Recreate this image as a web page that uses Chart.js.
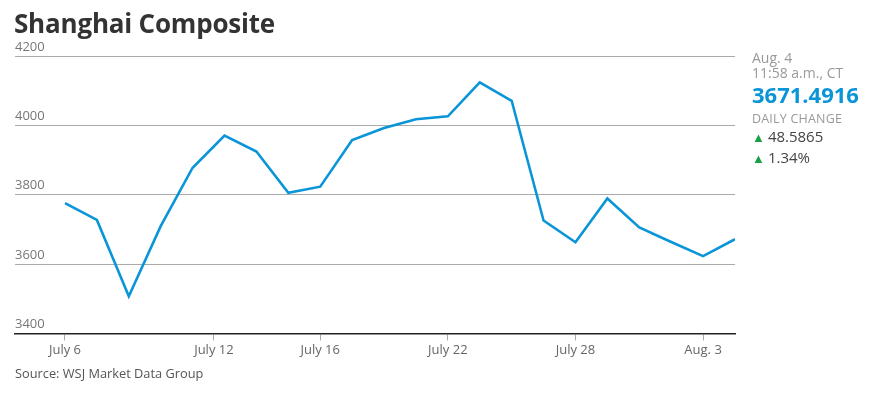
<!DOCTYPE html>
<html>
<head>
<meta charset="utf-8">
<script src="https://cdn.jsdelivr.net/npm/chart.js@4"></script>
<style>
  body { margin: 0; background: #fff; font-family: "Open Sans", sans-serif; }
  #wrap { position: relative; width: 870px; height: 395px; }
  #myChart { position: absolute; left: 0; top: 0; }
  .title { position: absolute; left: 14px; top: 5px; font-size: 26px; font-weight: 700; color: #333; letter-spacing: -0.2px; }
  .side { position: absolute; left: 752px; top: 50px; color: #999; font-size: 14px; line-height: 15px; }
  .side .last { color: #0a95d8; font-size: 22px; font-weight: 700; line-height: 26px; margin-top: 1px; }
  .side .cap { font-size: 12.5px; margin-top: 4px; letter-spacing: 0.2px; }
  .side .chg { color: #444; font-size: 15px; line-height: 20px; }
  .side .up { color: #1a9e4a; font-size: 13px; margin-right: 3px; }
  .source { position: absolute; left: 15px; top: 364px; font-size: 12.8px; color: #555; }
</style>
</head>
<body>
<div id="wrap">
  <canvas id="myChart" width="870" height="395"></canvas>
  <div class="title">Shanghai Composite</div>
  <div class="side">
    <div>Aug. 4</div>
    <div>11:58 a.m., CT</div>
    <div class="last">3671.4916</div>
    <div class="cap">DAILY CHANGE</div>
    <div class="chg"><span class="up">&#9650;</span>48.5865</div>
    <div class="chg"><span class="up">&#9650;</span>1.34%</div>
  </div>
  <div class="source">Source: WSJ Market Data Group</div>
</div>
<script>
// trading days and closes
var dates = ['2015-07-06', '2015-07-07', '2015-07-08', '2015-07-09', '2015-07-10',
    '2015-07-13', '2015-07-14', '2015-07-15', '2015-07-16', '2015-07-17',
    '2015-07-20', '2015-07-21', '2015-07-22', '2015-07-23', '2015-07-24',
    '2015-07-27', '2015-07-28', '2015-07-29', '2015-07-30', '2015-07-31',
    '2015-08-03', '2015-08-04'];
var closes = [3775.91, 3727.12, 3507.19, 3709.33, 3877.80,
    3970.39, 3924.49, 3805.70, 3823.18, 3957.35,
    3992.11, 4017.67, 4026.04, 4123.92, 4070.91,
    3725.56, 3663.00, 3789.17, 3705.77, 3663.73,
    3622.91, 3671.49];

var tickDates = ['2015-07-06', '2015-07-12', '2015-07-16', '2015-07-22', '2015-07-28', '2015-08-03'];
var tickLabels = ['July 6', 'July 12', 'July 16', 'July 22', 'July 28', 'Aug. 3'];
var yTicks = [3400, 3600, 3800, 4000, 4200];

// position on a trading-day axis, weekends interpolated by calendar day
function dayPos(d) {
    var t = Date.parse(d);
    for (var i = 0; i < dates.length - 1; i++) {
        var a = Date.parse(dates[i]), b = Date.parse(dates[i + 1]);
        if (t >= a && t <= b) return i + (t - a) / (b - a);
    }
    return dates.length - 1;
}

var points = dates.map(function(d, i) { return { x: dayPos(d), y: closes[i] }; });
var tickPos = tickDates.map(dayPos);

var ctx = document.getElementById('myChart').getContext('2d');
new Chart(ctx, {
    type: 'line',
    data: {
        datasets: [{
            data: points,
            borderColor: '#0a95d8',
            borderWidth: 2.6,
            pointRadius: 0,
            tension: 0,
            fill: false
        }]
    },
    options: {
        responsive: false,
        animation: false,
        layout: { padding: { left: 15, right: 135, top: 56, bottom: 35 } },
        plugins: { legend: { display: false }, tooltip: { enabled: false } },
        scales: {
            x: {
                type: 'linear',
                min: -1.567,
                max: 21,
                afterBuildTicks: function(scale) {
                    scale.ticks = tickPos.map(function(v) { return { value: v }; });
                },
                ticks: {
                    autoSkip: false,
                    maxRotation: 0,
                    padding: 2,
                    color: '#666',
                    font: { family: 'Open Sans', size: 13 },
                    callback: function(v, i) { return tickLabels[i]; }
                },
                grid: {
                    drawOnChartArea: false,
                    drawTicks: true,
                    tickLength: 7,
                    color: '#aaa'
                },
                border: { display: true, color: '#222', width: 1.5 }
            },
            y: {
                min: 3400,
                max: 4200,
                afterBuildTicks: function(scale) {
                    scale.ticks = yTicks.map(function(v) { return { value: v }; });
                },
                ticks: {
                    mirror: true,
                    padding: 0,
                    labelOffset: -9,
                    color: '#777',
                    font: { family: 'Open Sans', size: 13 },
                    callback: function(v) { return String(v); }
                },
                grid: { color: '#aaa', drawTicks: false },
                border: { display: false }
            }
        }
    }
});
</script>
</body>
</html>
